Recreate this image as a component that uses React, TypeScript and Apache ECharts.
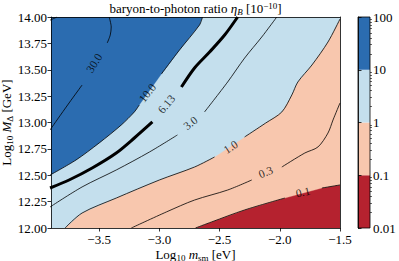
import React, { useEffect, useRef } from 'react';
import * as echarts from 'echarts';

type P = [number, number] | null;

const X_MIN = -3.9;
const X_MAX = -1.5;
const Y_MIN = 12;
const Y_MAX = 14;
const xTickValues = [-3.5, -3.0, -2.5, -2.0, -1.5];
const yTickInterval = 0.25;

// colour bar levels and filled-region colours (RdBu)
const levelBounds = [0.01, 0.1, 1, 10, 100];
const fillColors = ['#b5222f', '#f8c7ae', '#c4dfed', '#2b6cb0'];
const cbMinorTicks = [
  0.02, 0.03, 0.04, 0.05, 0.06, 0.07, 0.08, 0.09,
  0.2, 0.3, 0.4, 0.5, 0.6, 0.7, 0.8, 0.9,
  2, 3, 4, 5, 6, 7, 8, 9,
  20, 30, 40, 50, 60, 70, 80, 90,
];

// contour lines (null = gap for the inline label)
const contour30: P[] = [
  [-3.417, 14.0], [-3.4, 13.905], [-3.408, 13.829], [-3.433, 13.754], null,
  [-3.642, 13.355], [-3.75, 13.185], [-3.85, 13.024], [-3.908, 12.929],
];
const contour30Corner: P[] = [[-3.908, 13.97], [-3.85, 14.0]];
const contour10: P[] = [
  [-2.642, 14.0], [-2.667, 13.924], [-2.833, 13.687], [-2.983, 13.46], null,
  [-3.167, 13.166], [-3.208, 13.1], [-3.317, 12.976], [-3.5, 12.806], [-3.692, 12.645], [-3.908, 12.502],
];
const contour613: P[] = [
  [-2.35, 14.0], [-2.458, 13.829], [-2.583, 13.668], [-2.708, 13.517], [-2.817, 13.336], null,
  [-3.058, 13.005], [-3.208, 12.853], [-3.358, 12.711], [-3.558, 12.569], [-3.75, 12.455], [-3.908, 12.379],
];
const contour3: P[] = [
  [-2.025, 14.0], [-2.15, 13.81], [-2.292, 13.611], [-2.433, 13.384], [-2.625, 13.1], null,
  [-2.85, 12.882], [-3.083, 12.72], [-3.358, 12.55], [-3.642, 12.389], [-3.908, 12.199],
];
const contour1: P[] = [
  [-1.5, 13.981], [-1.6, 13.763], [-1.733, 13.545], [-1.85, 13.384], [-1.9, 13.261], [-1.983, 13.1],
  [-2.117, 12.995], [-2.292, 12.863], null,
  [-2.542, 12.673], [-2.708, 12.578], [-3.0, 12.455], [-3.358, 12.284], [-3.642, 12.142], [-3.783, 12.0],
];
const contour03: P[] = [
  [-1.5, 13.185], [-1.558, 13.024], [-1.6, 12.9], [-1.683, 12.768], [-1.792, 12.711], [-1.983, 12.578], null,
  [-2.233, 12.455], [-2.433, 12.36], [-2.708, 12.265], [-2.942, 12.152], [-3.233, 12.0],
];
const contour01: P[] = [
  [-1.5, 12.408], [-1.65, 12.379], null,
  [-1.958, 12.284], [-2.292, 12.171], [-2.567, 12.057], [-2.7, 12.0],
];

const contourLabelText = ['30.0', '10.0', '6.13', '3.0', '1.0', '0.3', '0.1'];
const contourLabelPos: [number, number][] = [
  [-3.542, 13.564], [-3.1, 13.28], [-2.942, 13.175], [-2.742, 12.995],
  [-2.408, 12.768], [-2.117, 12.531], [-1.808, 12.341],
];
const contourLabelAngle = [58, 52, 50, 38, 33, 22, 12];

const FONT = 'Liberation Serif';

function segments(line: P[]): [number, number][][] {
  const out: [number, number][][] = [];
  let cur: [number, number][] = [];
  for (const p of line) {
    if (p === null) {
      if (cur.length) out.push(cur);
      cur = [];
    } else cur.push(p);
  }
  if (cur.length) out.push(cur);
  return out;
}
const solid = (line: P[]) => line.filter((p) => p !== null) as [number, number][];

export default function App() {
  const ref = useRef<HTMLDivElement>(null);
  useEffect(() => {
    if (!ref.current) return;
    const chart = echarts.init(ref.current, undefined, { renderer: 'svg' });

    const regions = [
      { color: fillColors[0], pts: [[X_MIN, Y_MIN], [X_MAX, Y_MIN], [X_MAX, Y_MAX], [X_MIN, Y_MAX]] },
      { color: fillColors[1], pts: [...solid(contour01), [X_MIN, Y_MIN], [X_MIN, Y_MAX], [X_MAX, Y_MAX]] },
      { color: fillColors[2], pts: [...solid(contour1), [X_MIN, Y_MIN], [X_MIN, Y_MAX], [X_MAX, Y_MAX]] },
      { color: fillColors[3], pts: [...solid(contour10), [X_MIN, Y_MAX]] },
    ];

    const lines: { pts: P[]; width: number }[] = [
      { pts: contour30, width: 0.8 },
      { pts: contour30Corner, width: 0.8 },
      { pts: contour10, width: 0.8 },
      { pts: contour613, width: 3 },
      { pts: contour3, width: 0.8 },
      { pts: contour1, width: 0.8 },
      { pts: contour03, width: 0.8 },
      { pts: contour01, width: 0.8 },
    ];
    const lineSeries: any[] = [];
    lines.forEach((l) => {
      segments(l.pts).forEach((seg) => {
        lineSeries.push({
          type: 'line',
          xAxisIndex: 0,
          yAxisIndex: 0,
          data: seg,
          showSymbol: false,
          symbol: 'none',
          smooth: 0.3,
          clip: true,
          silent: true,
          z: 3,
          lineStyle: { color: '#000', width: l.width },
        });
      });
    });

    const axisLineStyle = { color: '#000', width: 0.8 };
    const labelStyle = { fontFamily: FONT, fontSize: 13, color: '#000' };
    const richBase = {
      n: { fontFamily: FONT, fontSize: 13, color: '#000' },
      i: { fontFamily: FONT, fontSize: 13, color: '#000', fontStyle: 'italic' },
      s: { fontFamily: FONT, fontSize: 9, color: '#000', padding: [6, 0, 0, 0] },
      si: { fontFamily: FONT, fontSize: 9, color: '#000', fontStyle: 'italic', padding: [6, 0, 0, 0] },
      p: { fontFamily: FONT, fontSize: 9, color: '#000', padding: [0, 0, 6, 0] },
    };

    const option: any = {
      animation: false,
      grid: [
        { left: 51, right: 59, top: 17, bottom: 33, containLabel: false, outerBoundsMode: 'none' },
        { left: 358, width: 12, top: 17, bottom: 33, containLabel: false, outerBoundsMode: 'none' },
      ],
      xAxis: [
        {
          type: 'value', gridIndex: 0, min: X_MIN, max: X_MAX, position: 'bottom', z: 10,
          axisLine: { show: true, onZero: false, lineStyle: axisLineStyle },
          axisTick: { show: true, customValues: xTickValues, length: 3.5, lineStyle: axisLineStyle },
          axisLabel: {
            ...labelStyle, customValues: xTickValues, margin: 5,
            formatter: (v: number) => v.toFixed(1).replace('-', '\u2212'),
          },
          splitLine: { show: false },
          name: '{n|Log}{s|10}{n| }{i|m}{s|sm}{n| [eV]}',
          nameLocation: 'middle', nameGap: 19, nameMoveOverlap: false,
          nameTextStyle: { rich: richBase },
        },
        {
          type: 'value', gridIndex: 0, min: X_MIN, max: X_MAX, position: 'top', z: 10,
          axisLine: { show: true, onZero: false, lineStyle: axisLineStyle },
          axisTick: { show: false }, axisLabel: { show: false }, splitLine: { show: false },
          name: '{n|baryon-to-photon ratio }{i|\u03b7}{si|B}{n| [10}{p|\u221210}{n|]}',
          nameLocation: 'middle', nameGap: 1, nameMoveOverlap: false,
          nameTextStyle: { rich: richBase },
        },
        { type: 'value', gridIndex: 1, min: 0, max: 1, show: false },
      ],
      yAxis: [
        {
          type: 'value', gridIndex: 0, min: Y_MIN, max: Y_MAX, interval: yTickInterval, position: 'left', z: 10,
          axisLine: { show: true, onZero: false, lineStyle: axisLineStyle },
          axisTick: { show: true, length: 3.5, lineStyle: axisLineStyle },
          axisLabel: { ...labelStyle, margin: 4, formatter: (v: number) => v.toFixed(2) },
          splitLine: { show: false },
          name: '{n|Log}{s|10}{n| }{i|M}{s|\u0394}{n| [GeV]}',
          nameLocation: 'middle', nameGap: 37, nameRotate: 90, nameMoveOverlap: false,
          nameTextStyle: { rich: richBase },
        },
        {
          type: 'value', gridIndex: 0, min: Y_MIN, max: Y_MAX, position: 'right', z: 10,
          axisLine: { show: true, onZero: false, lineStyle: axisLineStyle },
          axisTick: { show: false }, axisLabel: { show: false }, splitLine: { show: false },
        },
        {
          type: 'log', logBase: 10, gridIndex: 1, min: levelBounds[0], max: levelBounds[levelBounds.length - 1],
          position: 'right', z: 10,
          axisLine: { show: true, lineStyle: axisLineStyle },
          axisTick: { show: true, length: 3.5, lineStyle: axisLineStyle },
          axisLabel: { ...labelStyle, margin: 3, formatter: (v: number) => String(Number(v.toPrecision(3))) },
          splitLine: { show: false },
        },
        {
          type: 'log', logBase: 10, gridIndex: 1, min: levelBounds[0], max: levelBounds[levelBounds.length - 1],
          position: 'right', z: 10,
          axisLine: { show: false },
          axisTick: { show: true, length: 2, customValues: cbMinorTicks, lineStyle: { color: '#000', width: 0.6 } },
          axisLabel: { show: false },
          splitLine: { show: false },
        },
      ],
      series: [
        {
          type: 'custom',
          xAxisIndex: 0,
          yAxisIndex: 0,
          clip: true,
          silent: true,
          z: 1,
          data: regions.map((_, i) => [i]),
          renderItem: (params: any, api: any) => {
            const r = regions[params.dataIndex];
            return {
              type: 'polygon',
              shape: { points: r.pts.map((p) => api.coord(p)) },
              style: { fill: r.color, stroke: r.color, lineWidth: 0.3 },
            };
          },
        },
        ...lineSeries,
        {
          type: 'scatter',
          xAxisIndex: 0,
          yAxisIndex: 0,
          symbolSize: 1,
          itemStyle: { color: 'rgba(0,0,0,0)' },
          silent: true,
          z: 5,
          data: contourLabelPos.map((p, i) => ({
            value: p,
            name: contourLabelText[i],
            label: { rotate: contourLabelAngle[i] },
          })),
          label: {
            show: true,
            position: 'inside',
            formatter: (d: any) => d.name,
            fontFamily: FONT,
            fontSize: 11.5,
            color: '#000',
          },
        },
        {
          type: 'custom',
          xAxisIndex: 2,
          yAxisIndex: 2,
          silent: true,
          z: 1,
          data: fillColors.map((_, i) => [i]),
          renderItem: (params: any, api: any) => {
            const i = params.dataIndex;
            const a = api.coord([0, levelBounds[i]]);
            const b = api.coord([1, levelBounds[i + 1]]);
            return {
              type: 'rect',
              shape: { x: a[0], y: b[1], width: b[0] - a[0], height: a[1] - b[1] },
              style: { fill: fillColors[i] },
            };
          },
        },
        {
          type: 'custom',
          xAxisIndex: 2,
          yAxisIndex: 2,
          silent: true,
          z: 4,
          data: [[0]],
          renderItem: (_params: any, api: any) => {
            const a = api.coord([0, levelBounds[0]]);
            const b = api.coord([1, levelBounds[levelBounds.length - 1]]);
            return {
              type: 'rect',
              shape: { x: a[0], y: b[1], width: b[0] - a[0], height: a[1] - b[1] },
              style: { fill: 'none', stroke: '#000', lineWidth: 0.8 },
            };
          },
        },
      ],
    };
    chart.setOption(option);
    return () => chart.dispose();
  }, []);
  return (
    <div
      ref={ref}
      style={{ position: 'absolute', left: 0, top: 0, width: 399, height: 261, background: '#fff' }}
    />
  );
}
